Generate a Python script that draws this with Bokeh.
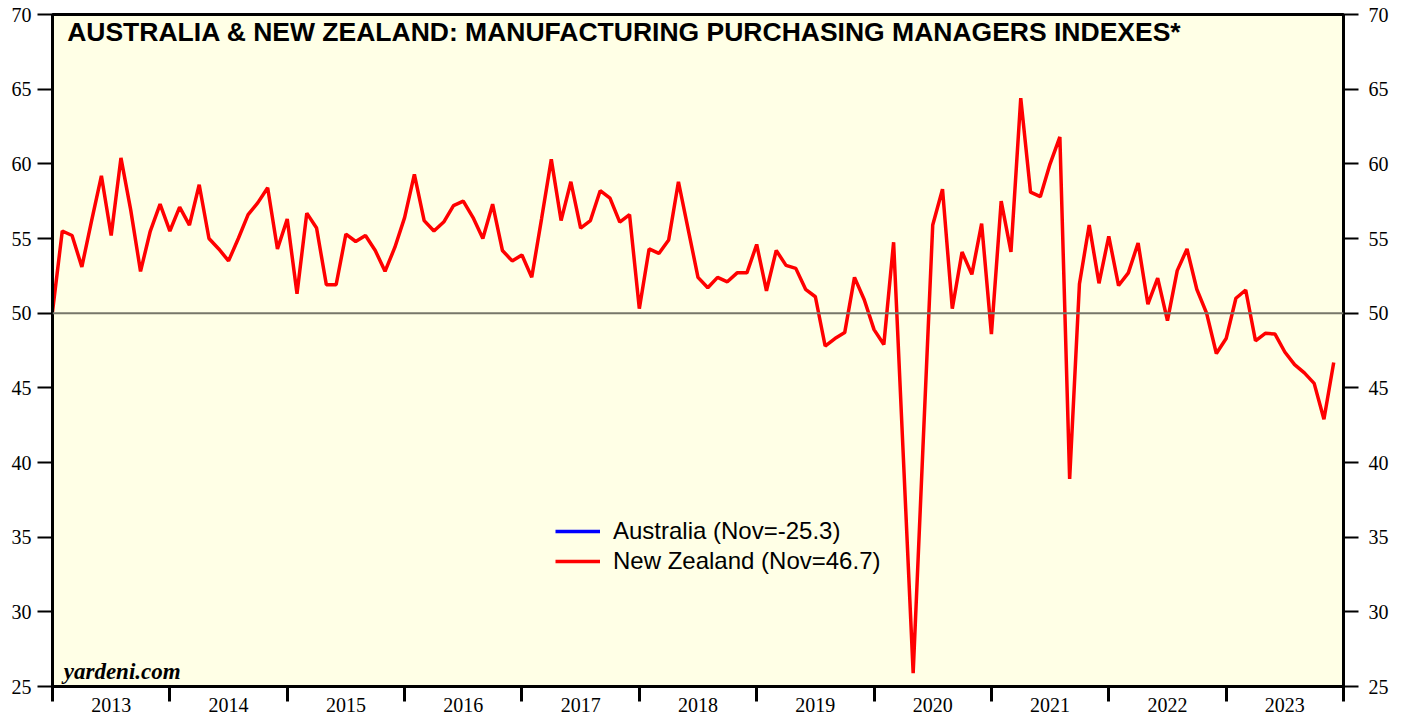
from bokeh.plotting import figure
from bokeh.models import (FixedTicker, LinearAxis, Range1d, Span, Label, Legend,
                          LegendItem, ColumnDataSource)
from bokeh.embed import file_html
from bokeh.resources import INLINE

# ---- data (monthly, Dec 2012 .. Nov 2023) ----
years = [2013, 2014, 2015, 2016, 2017, 2018, 2019, 2020, 2021, 2022, 2023]
y_ticks = [25, 30, 35, 40, 45, 50, 55, 60, 65, 70]
nz_pmi = [
    50.1, 55.5, 55.2, 53.1, 56.2, 59.2, 55.2, 60.4, 56.9, 52.8, 55.5, 57.3,
    55.5, 57.1, 55.9, 58.6, 55.0, 54.3, 53.5, 55.0, 56.6, 57.4, 58.4, 54.3,
    56.3, 51.3, 56.7, 55.7, 51.9, 51.9, 55.3, 54.8, 55.2, 54.2, 52.8, 54.4,
    56.4, 59.3, 56.2, 55.5, 56.1, 57.2, 57.5, 56.4, 55.0, 57.3, 54.2, 53.5,
    53.9, 52.4, 56.3, 60.3, 56.2, 58.8, 55.7, 56.2, 58.2, 57.7, 56.1, 56.6,
    50.3, 54.3, 54.0, 54.9, 58.8, 55.6, 52.4, 51.7, 52.4, 52.1, 52.7, 52.7,
    54.6, 51.5, 54.2, 53.2, 53.0, 51.6, 51.1, 47.8, 48.3, 48.7, 52.4, 50.9,
    48.9, 47.9, 54.75, 40.3, 25.9, 41.0, 55.9, 58.3, 50.3, 54.1, 52.6, 56.0,
    48.6, 57.5, 54.1, 64.4, 58.1, 57.8, 60.0, 61.8, 38.9, 51.95, 55.9, 52.0,
    55.15, 51.85, 52.7, 54.7, 50.6, 52.35, 49.5, 52.85, 54.3, 51.6, 50.0, 47.3,
    48.3, 51.0, 51.55, 48.15, 48.65, 48.6, 47.4, 46.55, 46.0, 45.3, 42.9, 46.7,
]
# Australia: only the latest (Nov 2023) reading is known; it lies off the chart's scale
au_idx = [131]
au_pmi = [-25.3]
title_text = "AUSTRALIA & NEW ZEALAND: MANUFACTURING PURCHASING MANAGERS INDEXES*"
legend_labels = ["Australia (Nov=-25.3)", "New Zealand (Nov=46.7)"]

n_months = 12 * len(years)
month_idx = list(range(len(nz_pmi)))

p = figure(frame_width=1291, frame_height=672,
           x_range=Range1d(0, n_months), y_range=Range1d(25, 70),
           output_backend="svg", toolbar_location=None,
           min_border_left=52, min_border_right=50, min_border_top=14, min_border_bottom=33,
           background_fill_color="#FFFFE6", border_fill_color="white",
           outline_line_color="black", outline_line_width=3)
p.xgrid.visible = False
p.ygrid.visible = False

# x axis: year labels centred, boundary ticks as minor ticks
mids = [6 + 12 * i for i in range(len(years))]
bounds = [12 * i for i in range(len(years) + 1)]
xa = p.xaxis[0]
xa.ticker = FixedTicker(ticks=mids, minor_ticks=bounds)
xa.major_label_overrides = {m: str(y) for m, y in zip(mids, years)}
xa.major_tick_line_color = None
xa.major_tick_in = 0
xa.major_tick_out = 0
xa.minor_tick_in = 0
xa.minor_tick_out = 15
xa.minor_tick_line_width = 3
xa.minor_tick_line_color = "black"
xa.axis_line_width = 3
xa.axis_line_color = "black"
xa.major_label_standoff = -4
xa.major_label_text_font = "Liberation Serif"
xa.major_label_text_font_size = "20px"
xa.major_label_text_color = "black"

def style_y(ax, standoff):
    ax.ticker = FixedTicker(ticks=y_ticks, minor_ticks=[])
    ax.major_tick_in = 0
    ax.major_tick_out = 15
    ax.major_tick_line_width = 2
    ax.major_tick_line_color = "black"
    ax.minor_tick_line_color = None
    ax.axis_line_width = 3
    ax.axis_line_color = "black"
    ax.major_label_standoff = standoff
    ax.major_label_text_font = "Liberation Serif"
    ax.major_label_text_font_size = "20px"
    ax.major_label_text_color = "black"

style_y(p.yaxis[0], 6)
ry = LinearAxis()
style_y(ry, 10)
p.add_layout(ry, "right")

p.add_layout(Span(location=50, dimension="width", line_color="#77776a", line_width=2))

src_nz = ColumnDataSource(dict(x=month_idx, y=nz_pmi))
src_au = ColumnDataSource(dict(x=au_idx, y=au_pmi))
r_au = p.line("x", "y", source=src_au, line_color="#0000FF", line_width=3.5)
r_nz = p.line("x", "y", source=src_nz, line_color="#FF0000", line_width=3.5)

legend = Legend(items=[LegendItem(label=legend_labels[0], renderers=[r_au]),
                       LegendItem(label=legend_labels[1], renderers=[r_nz])],
                location=(503, 110), orientation="vertical",
                glyph_width=45, glyph_height=30, label_height=30, spacing=0,
                padding=0, margin=0, label_standoff=13,
                background_fill_alpha=0, border_line_alpha=0,
                label_text_font="Liberation Sans", label_text_font_size="24px",
                label_text_color="black")
p.add_layout(legend, "center")

p.add_layout(Label(x=1.5, y=68.8, text=title_text, text_font="Liberation Sans",
                   text_font_style="bold", text_font_size="26.5px", text_color="black",
                   text_baseline="alphabetic"))
p.add_layout(Label(x=1.15, y=26.0, text="yardeni.com", text_font="Liberation Serif",
                   text_font_style="bold italic", text_font_size="23px", text_color="black",
                   text_baseline="alphabetic"))

open("out.html", "w").write(file_html(p, INLINE))
